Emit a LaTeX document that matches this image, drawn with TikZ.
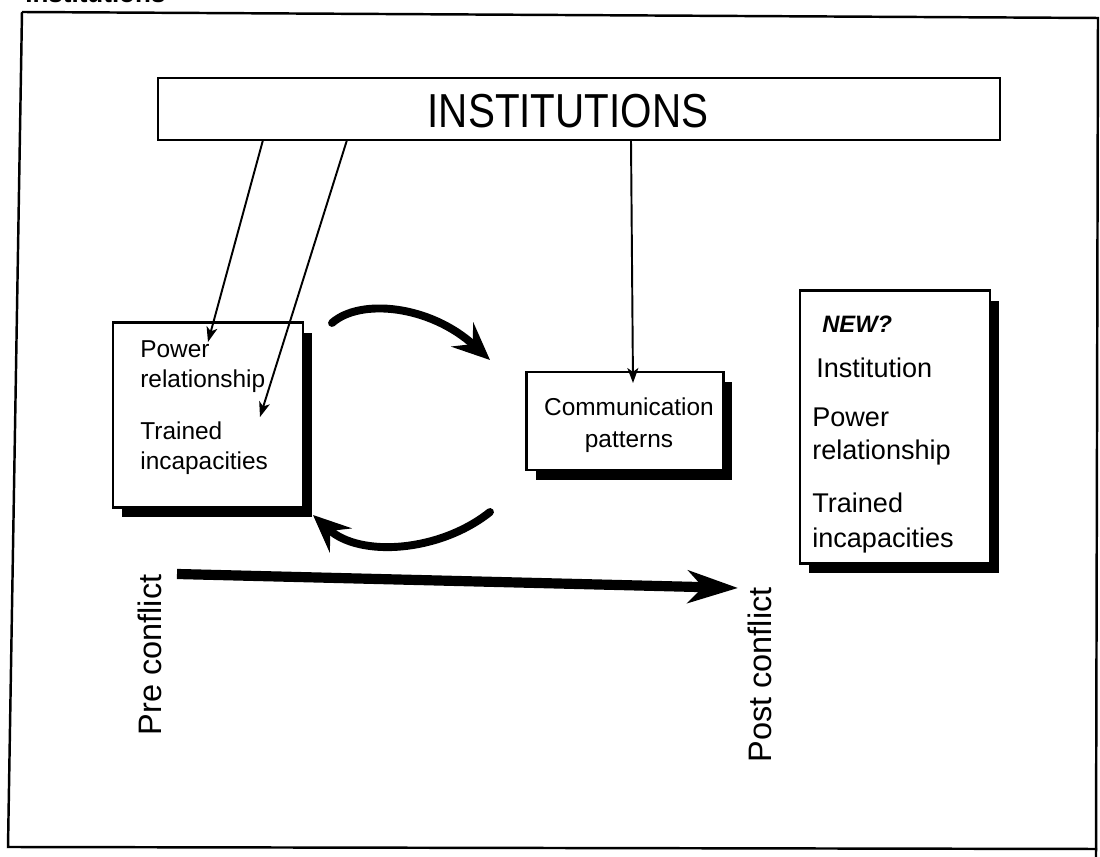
\documentclass[tikz,border=0pt]{standalone}
\usepackage{fontspec}
\setmainfont{Liberation Sans}
\usetikzlibrary{arrows.meta,shadows}
\begin{document}
\begin{tikzpicture}[x=0.02cm,y=-0.02cm,
  frame/.style={line width=1.4pt},
  box/.style={draw,fill=white,line width=1.2pt,inner sep=0pt},
  shadowbox/.style={box,drop shadow={shadow xshift=0.18cm,shadow yshift=-0.2cm,fill=black,opacity=1}},
  smalltxt/.style={font=\fontsize{13.9}{16}\selectfont,inner sep=0pt},
  bigtxt/.style={font=\fontsize{15.4}{18}\selectfont,inner sep=0pt},
  sidetxt/.style={font=\fontsize{18.5}{22}\selectfont,inner sep=0pt,rotate=90},
  thinarrow/.style={line width=1.1pt,-{Stealth[length=0.3cm,width=0.22cm,inset=0.08cm]}},
  thickarrow/.style={line width=4.5pt,line cap=round,-{Stealth[length=0.75cm,width=0.65cm,inset=0.28cm]}},
  timearrow/.style={line width=5.8pt,-{Stealth[length=1cm,width=0.65cm,inset=0.3cm]}}]
\fill[white] (0,0) rectangle (1100,857);
\useasboundingbox (0,0) rectangle (1100,857);
% clipped header fragment
\begin{scope}
\clip (0,0) rectangle (1100,857);
\node[anchor=base west,inner sep=0pt,font=\bfseries\fontsize{14.8}{17}\selectfont] (hdr) at (25,3) {Institutions};
\end{scope}
% outer frame
\coordinate (f1) at (22,12);
\coordinate (f2) at (1098,18);
\coordinate (f3) at (1096,857);
\coordinate (f4) at (1097,849);
\coordinate (f5) at (8,847);
\draw[frame] (f1) -- (f2) -- (f3);
\draw[frame] (f1) -- (f5) -- (f4);
% boxes
\node[box,minimum width=16.84cm,minimum height=1.24cm] (inst) at (579,109) {};
\node[inner sep=0pt,font=\fontsize{23}{28}\selectfont,anchor=base] (insttxt) at (568,128) {\scalebox{1}[1.18]{INSTITUTIONS}};
\node[shadowbox,minimum width=3.8cm,minimum height=3.7cm] (lbox) at (208,415) {};
\node[shadowbox,minimum width=3.94cm,minimum height=1.96cm] (cbox) at (625,421) {};
\node[shadowbox,minimum width=3.8cm,minimum height=5.46cm] (rbox) at (895,427) {};
% left box text
\node[smalltxt,anchor=base west] (l1) at (140,358) {Power};
\node[smalltxt,anchor=base west] (l2) at (140,388) {relationship};
\node[smalltxt,anchor=base west] (l3) at (140,440) {Trained};
\node[smalltxt,anchor=base west] (l4) at (140,470) {incapacities};
% communication box text
\node[smalltxt,anchor=base] (c1) at (629,416) {Communication};
\node[smalltxt,anchor=base] (c2) at (629,448) {patterns};
% right box text
\node[inner sep=0pt,anchor=base west,font=\bfseries\itshape\fontsize{13.5}{16}\selectfont] (r0) at (822,333) {NEW?};
\node[bigtxt,anchor=base west] (r1) at (816,378) {Institution};
\node[bigtxt,anchor=base west] (r2) at (812,427) {Power};
\node[bigtxt,anchor=base west] (r3) at (812,460) {relationship};
\node[bigtxt,anchor=base west] (r4) at (812,513) {Trained};
\node[bigtxt,anchor=base west] (r5) at (812,548) {incapacities};
% side labels
\node[sidetxt] (pre) at (150,655) {Pre conflict};
\node[sidetxt] (post) at (760,675) {Post conflict};
% thin arrows from institutions
\coordinate (s1) at (263,140);
\coordinate (e1) at (208,342);
\coordinate (s2) at (347,140);
\coordinate (e2) at (260,417);
\coordinate (s3) at (631,140);
\coordinate (e3) at (633,383);
\draw[thinarrow] (s1) -- (e1);
\draw[thinarrow] (s2) -- (e2);
\draw[thinarrow] (s3) -- (e3);
% curved thick arrows
\coordinate (t1) at (332,323);
\coordinate (t2) at (490,360);
\coordinate (b1) at (490,512);
\coordinate (b2) at (313,515);
\draw[thickarrow] (t1) .. controls (360,298) and (430,305) .. (t2);
\draw[thickarrow] (b1) .. controls (440,552) and (360,558) .. (b2);
% time arrow
\coordinate (h1) at (177,574);
\coordinate (h2) at (738,588);
\draw[timearrow] (h1) -- (h2);
\end{tikzpicture}
\end{document}
